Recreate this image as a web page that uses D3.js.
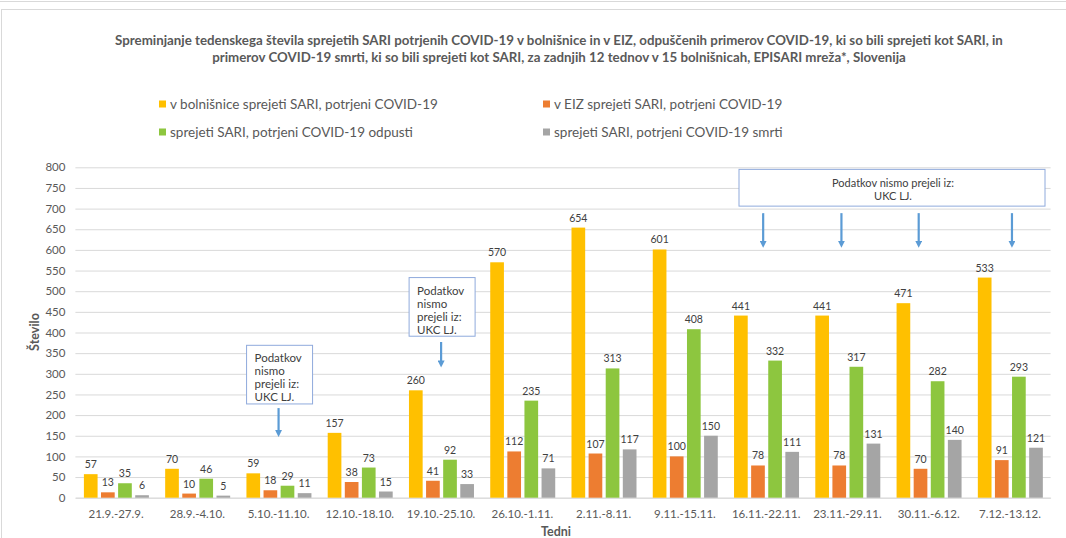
<!DOCTYPE html>
<html>
<head>
<meta charset="utf-8">
<script src="https://cdn.jsdelivr.net/npm/d3@7"></script>
<style>
  body { margin: 0; background: #fff; }
  svg { display: block; font-family: Lato, "Open Sans", sans-serif; }
</style>
</head>
<body>
<div id="chart"></div>
<script>
var W = 1066, H = 538;

// data
var weeks = ["21.9.-27.9.", "28.9.-4.10.", "5.10.-11.10.", "12.10.-18.10.", "19.10.-25.10.", "26.10.-1.11.",
             "2.11.-8.11.", "9.11.-15.11.", "16.11.-22.11.", "23.11.-29.11.", "30.11.-6.12.", "7.12.-13.12."];
var admitted   = [57, 70, 59, 157, 260, 570, 654, 601, 441, 441, 471, 533];
var icu        = [13, 10, 18, 38, 41, 112, 107, 100, 78, 78, 70, 91];
var discharged = [35, 46, 29, 73, 92, 235, 313, 408, 332, 317, 282, 293];
var deaths     = [6, 5, 11, 15, 33, 71, 117, 150, 111, 131, 140, 121];

var seriesNames = ["v bolnišnice sprejeti SARI, potrjeni COVID-19",
                   "v EIZ sprejeti SARI, potrjeni COVID-19",
                   "sprejeti SARI, potrjeni COVID-19 odpusti",
                   "sprejeti SARI, potrjeni COVID-19 smrti"];
var seriesColors = ["#FFC000", "#ED7D31", "#8DC63F", "#A5A5A5"];
var yTicks = d3.range(0, 801, 50);

var titleLines = ["Spreminjanje tedenskega števila sprejetih SARI potrjenih COVID-19 v bolnišnice in v EIZ, odpuščenih primerov COVID-19, ki so bili sprejeti kot SARI, in",
                  "primerov COVID-19 smrti, ki so bili sprejeti kot SARI, za zadnjih 12 tednov  v 15 bolnišnicah, EPISARI mreža*, Slovenija"];

// annotations: which weeks had missing data
var noteText = ["Podatkov", "nismo", "prejeli iz:", "UKC LJ."];
var noteWeeks1 = [2];
var noteWeeks2 = [4];
var noteWeeksBig = [8, 9, 10, 11];
var bigArrowShift = [-3, -6, -10, 2];

var allSeries = [admitted, icu, discharged, deaths];
var table = weeks.map(function (w, i) {
    return { week: w, values: allSeries.map(function (s, k) { return { k: k, v: s[i] }; }) };
});

var svg = d3.select("#chart").append("svg")
    .attr("width", W)
    .attr("height", H);

// outer frame
svg.append("line").attr("x1", 0).attr("x2", W).attr("y1", 1.5).attr("y2", 1.5)
    .attr("stroke", "#D9D9D9");
svg.append("rect").attr("x", 1.5).attr("y", 9.5).attr("width", W + 20).attr("height", H + 20)
    .attr("fill", "none").attr("stroke", "#D9D9D9");

var x0 = d3.scaleBand().domain(weeks).range([75.4, 1050.6]);
var x1 = d3.scaleBand().domain(d3.range(4)).range([8.5, 73.5]).paddingInner(0.2);
var y = d3.scaleLinear().domain([0, 800]).range([497.7, 167.3]);

// title
svg.append("g").selectAll("text")
    .data(titleLines)
    .join("text")
    .attr("x", 559)
    .attr("y", function (d, i) { return 45 + i * 17; })
    .attr("text-anchor", "middle")
    .attr("font-size", 13.3)
    .attr("font-weight", "bold")
    .attr("fill", "#595959")
    .text(function (d) { return d; });

// legend
var legendPos = [[159, 104], [543, 104], [159, 132], [543, 132]];
var legend = svg.append("g").selectAll("g")
    .data(seriesNames)
    .join("g")
    .attr("transform", function (d, i) { return "translate(" + legendPos[i][0] + "," + legendPos[i][1] + ")"; });
legend.append("rect")
    .attr("x", 0).attr("y", -3.5).attr("width", 7).attr("height", 7)
    .attr("fill", function (d, i) { return seriesColors[i]; });
legend.append("text")
    .attr("x", 11).attr("y", 5)
    .attr("font-size", 13.5)
    .attr("fill", "#595959")
    .text(function (d) { return d; });

// grid + y axis
var yAxis = d3.axisLeft(y).tickValues(yTicks).tickSize(-(1050.6 - 75.4)).tickPadding(10);
var gy = svg.append("g").attr("transform", "translate(75.4,0)").call(yAxis);
gy.select(".domain").remove();
gy.selectAll(".tick line").attr("stroke", "#D9D9D9");
gy.selectAll(".tick text").attr("fill", "#595959").attr("font-size", 11.5)
    .attr("font-family", "Lato, 'Open Sans', sans-serif");

// x axis
var xAxis = d3.axisBottom(x0).tickSize(0).tickPadding(12);
var gx = svg.append("g").attr("transform", "translate(0,497.7)").call(xAxis);
gx.select(".domain").attr("stroke", "#D9D9D9");
gx.selectAll(".tick text").attr("fill", "#595959").attr("font-size", 11.5)
    .attr("font-family", "Lato, 'Open Sans', sans-serif");

// axis titles
svg.append("text")
    .attr("transform", "translate(39,332) rotate(-90)")
    .attr("text-anchor", "middle")
    .attr("font-size", 12.5).attr("font-weight", "bold").attr("fill", "#595959")
    .text("Število");
svg.append("text")
    .attr("x", 556).attr("y", 536)
    .attr("text-anchor", "middle")
    .attr("font-size", 12.5).attr("font-weight", "bold").attr("fill", "#595959")
    .text("Tedni");

// bars
var groups = svg.append("g").selectAll("g")
    .data(table)
    .join("g")
    .attr("transform", function (d) { return "translate(" + x0(d.week) + ",0)"; });

groups.selectAll("rect")
    .data(function (d) { return d.values; })
    .join("rect")
    .attr("x", function (d) { return x1(d.k); })
    .attr("y", function (d) { return y(d.v); })
    .attr("width", x1.bandwidth())
    .attr("height", function (d) { return y(0) - y(d.v); })
    .attr("fill", function (d) { return seriesColors[d.k]; });

groups.selectAll("text")
    .data(function (d) { return d.values; })
    .join("text")
    .attr("x", function (d) { return x1(d.k) + x1.bandwidth() / 2; })
    .attr("y", function (d) { return y(d.v) - 6; })
    .attr("text-anchor", "middle")
    .attr("font-size", 10.5)
    .attr("fill", "#404040")
    .text(function (d) { return d.v; });

// annotations
var noteStroke = "#8FAADC", arrowColor = "#5B9BD5";
svg.append("defs").append("marker")
    .attr("id", "head")
    .attr("viewBox", "0 0 10 10")
    .attr("refX", 5).attr("refY", 5)
    .attr("markerWidth", 3.2).attr("markerHeight", 3.2)
    .attr("orient", "auto")
    .append("path").attr("d", "M0,0 L10,5 L0,10 z").attr("fill", arrowColor);

function arrow(i, vTop, vBottom, shift) {
    var cx = x0(weeks[i]) + x0.bandwidth() / 2 + (shift || 0);
    svg.append("line")
        .attr("x1", cx).attr("x2", cx)
        .attr("y1", y(vTop)).attr("y2", y(vBottom) - 4)
        .attr("stroke", arrowColor).attr("stroke-width", 2.2)
        .attr("marker-end", "url(#head)");
}

function smallNote(i, vTop, vBottom, arrowTop, arrowBottom) {
    var cx = x0(weeks[i]) + x0.bandwidth() / 2;
    var bx = cx - 32;
    svg.append("rect")
        .attr("x", bx).attr("y", y(vTop))
        .attr("width", 66).attr("height", y(vBottom) - y(vTop))
        .attr("fill", "#fff").attr("stroke", noteStroke);
    svg.append("g").selectAll("text")
        .data(noteText)
        .join("text")
        .attr("x", bx + 8)
        .attr("y", function (d, k) { return y(vTop) + 17 + k * 13; })
        .attr("font-size", 11.5).attr("fill", "#404040")
        .text(function (d) { return d; });
    arrow(i, arrowTop, arrowBottom);
}

noteWeeks1.forEach(function (i) { smallNote(i, 369, 227, 217, 146); });
noteWeeks2.forEach(function (i) { smallNote(i, 533, 391, 377, 314); });

var bigLeft = 739, bigRight = 1045;
svg.append("rect")
    .attr("x", bigLeft).attr("y", y(795))
    .attr("width", bigRight - bigLeft).attr("height", y(706) - y(795))
    .attr("fill", "#fff").attr("stroke", noteStroke);
svg.append("g").selectAll("text")
    .data(["Podatkov nismo prejeli iz:", "UKC LJ."])
    .join("text")
    .attr("x", 893)
    .attr("y", function (d, k) { return y(795) + 18 + k * 13; })
    .attr("text-anchor", "middle")
    .attr("font-size", 11).attr("fill", "#404040")
    .text(function (d) { return d; });
noteWeeksBig.forEach(function (i, j) { arrow(i, 689, 604, bigArrowShift[j]); });
</script>
</body>
</html>
